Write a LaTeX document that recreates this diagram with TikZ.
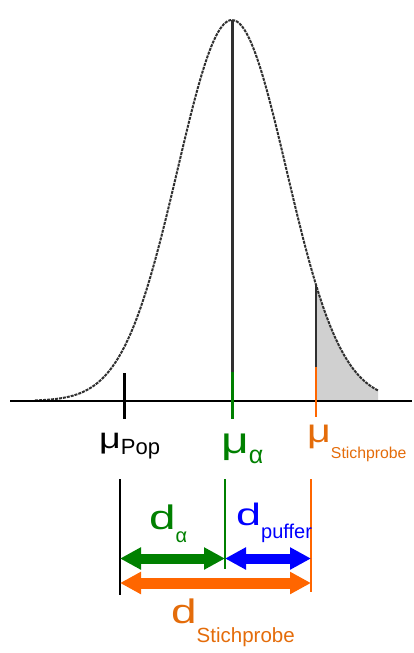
\documentclass[tikz,border=0pt]{standalone}
\usepackage{graphicx}
\usepackage{fontspec}
\setmainfont{Liberation Sans}
\usetikzlibrary{arrows.meta}
\definecolor{gruen}{RGB}{0,128,0}
\definecolor{orline}{RGB}{255,102,0}
\definecolor{ortext}{RGB}{228,108,10}
\definecolor{kurve}{RGB}{48,48,48}
\definecolor{flaeche}{RGB}{208,208,208}
% wide big symbol with dropped subscript
\newcommand{\symsub}[6]{\scalebox{#6}[1]{\fontsize{#1}{#1}\selectfont #2}\raisebox{-#5pt}{\fontsize{#3}{#3}\selectfont #4}}

\begin{document}
\begin{tikzpicture}[x=1pt, y=-1pt,
    lbl/.style={anchor=base west, inner sep=0pt},
    tick/.style={line width=3pt},
    grenze/.style={line width=2pt},
    dpfeil/.style={line width=10pt, {Triangle[length=21pt,width=21pt]}-{Triangle[length=21pt,width=21pt]}}]
    \useasboundingbox (0,0) rectangle (414,653);

    % shaded tail and curve
    \fill[flaeche] (316,401) -- plot[smooth, domain=316:378, samples=20] (\x,{401-381*exp(-((\x-232)/77.07)^2)}) -- (378,401) -- cycle;
    \draw[kurve, line width=2pt, dash pattern=on 3pt off 1pt] plot[smooth, domain=35:378, samples=90] (\x,{401-381*exp(-((\x-232)/77.07)^2)});

    % axis and ticks
    \coordinate (achseL) at (10,401);
    \coordinate (achseR) at (412,401);
    \draw[line width=2pt] (achseL) -- (achseR);

    \coordinate (gipfel) at (232,20);
    \coordinate (alphaO) at (232,372);
    \coordinate (alphaU) at (232,419);
    \draw[kurve, line width=3pt] (gipfel) -- (alphaO);
    \draw[tick, gruen] (alphaO) -- (alphaU);

    \coordinate (stichK) at (316,285);
    \coordinate (stichO) at (316,367);
    \coordinate (stichU) at (316,417);
    \draw[kurve, line width=2.5pt] (stichK) -- (stichO);
    \draw[tick, orline, line width=2.5pt] (stichO) -- (stichU);

    \coordinate (popO) at (124,373);
    \coordinate (popU) at (124,419);
    \draw[tick] (popO) -- (popU);

    % labels on the axis
    \node[lbl] (muPop) at (99,448) {\symsub{29}{μ}{22}{Pop}{6}{1.3}};
    \node[lbl, text=gruen] (muAlpha) at (221,453) {\symsub{37}{μ}{25}{α}{10}{1.3}};
    \node[lbl, text=ortext] (muStich) at (307,442) {\symsub{33}{μ}{15.8}{Stichprobe}{16}{1.25}};

    % distances
    \coordinate (lPopO) at (120,479);
    \coordinate (lPopU) at (120,595);
    \coordinate (lAlphaO) at (225,479);
    \coordinate (lAlphaU) at (225,569);
    \coordinate (lStichO) at (311,479);
    \coordinate (lStichU) at (311,592);
    \draw[grenze] (lPopO) -- (lPopU);
    \draw[grenze, gruen] (lAlphaO) -- (lAlphaU);
    \draw[grenze, orline] (lStichO) -- (lStichU);

    \coordinate (aL) at (120,558.5);
    \coordinate (aM) at (225,558.5);
    \coordinate (aR) at (311,558.5);
    \coordinate (sL) at (120,583);
    \coordinate (sR) at (311,583);
    \draw[dpfeil, gruen] (aL) -- (aM);
    \draw[dpfeil, blue] (aM) -- (aR);
    \draw[dpfeil, orline, line width=11pt] (sL) -- (sR);

    \node[lbl, text=gruen] (dAlpha) at (149,529) {\symsub{34}{d}{20}{α}{13}{1.4}};
    \node[lbl, text=blue] (dPuffer) at (236,525) {\symsub{31}{d}{20}{puffer}{13}{1.45}};
    \node[lbl, text=ortext] (dStich) at (171,623) {\symsub{34}{d}{20.5}{Stichprobe}{19}{1.35}};
\end{tikzpicture}
\end{document}
